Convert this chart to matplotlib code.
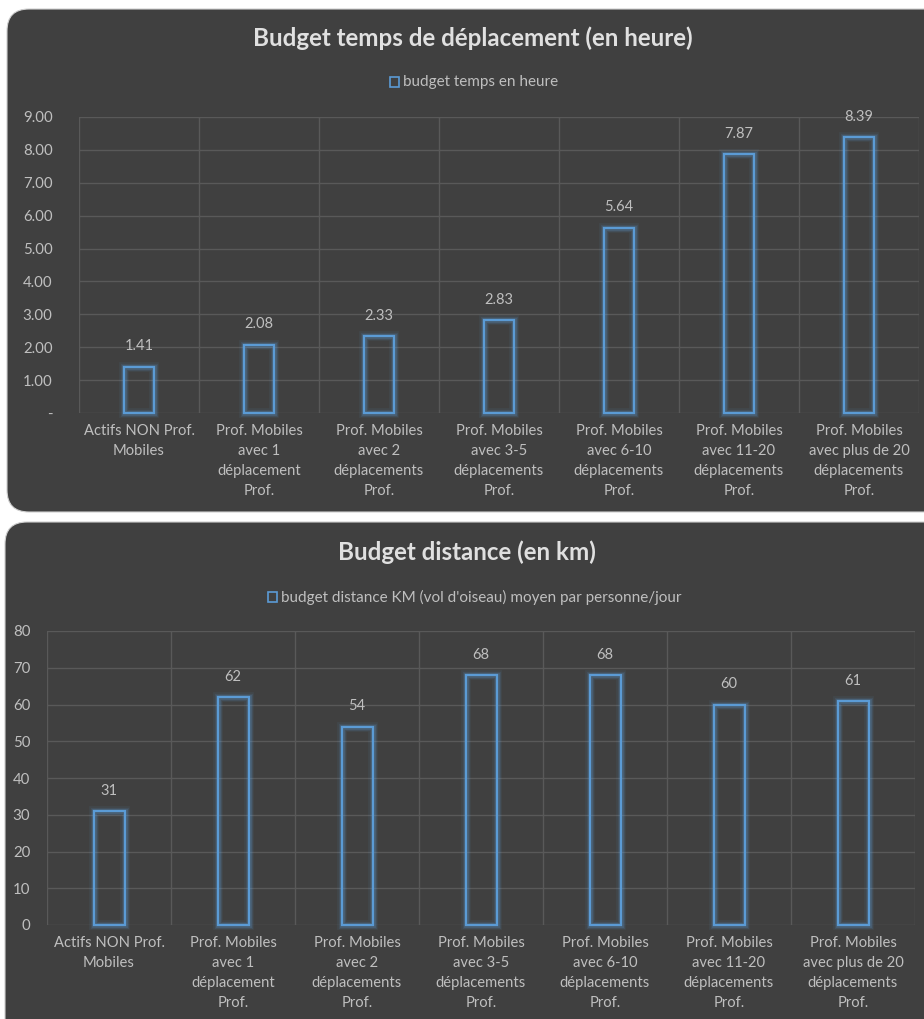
import matplotlib
matplotlib.use("Agg")
import matplotlib.pyplot as plt
from matplotlib.patches import FancyBboxPatch, Rectangle
from matplotlib.ticker import FixedLocator

plt.rcParams['font.family'] = ['Lato', 'DejaVu Sans']

# données
categories = [
    "Actifs NON Prof.\nMobiles",
    "Prof. Mobiles\navec 1\ndéplacement\nProf.",
    "Prof. Mobiles\navec 2\ndéplacements\nProf.",
    "Prof. Mobiles\navec 3-5\ndéplacements\nProf.",
    "Prof. Mobiles\navec 6-10\ndéplacements\nProf.",
    "Prof. Mobiles\navec 11-20\ndéplacements\nProf.",
    "Prof. Mobiles\navec plus de 20\ndéplacements\nProf.",
]
temps_heure = [1.41, 2.08, 2.33, 2.83, 5.64, 7.87, 8.39]
distance_km = [31, 62, 54, 68, 68, 60, 61]

temps_ticks = [0, 1, 2, 3, 4, 5, 6, 7, 8, 9]
temps_ticklabels = ["-"] + ["%.2f" % t for t in temps_ticks[1:]]
dist_ticks = [0, 10, 20, 30, 40, 50, 60, 70, 80]

W, H = 924, 1019
BG = "#404040"
GRID = "#595959"
BLUE = "#5b9bd5"
TXT = "#bfbfbf"
TITLE = "#e0e0e0"

fig = plt.figure(figsize=(W / 100, H / 100), dpi=100)
fig.patch.set_facecolor("white")

# fond : panneaux arrondis en coordonnées pixel
bg = fig.add_axes([0, 0, 1, 1])
bg.set_xlim(0, W)
bg.set_ylim(H, 0)
bg.axis("off")
bg.add_patch(FancyBboxPatch((7, 9), W + 40, 503, boxstyle="round,pad=0,rounding_size=22",
                            facecolor=BG, edgecolor="#d0d0d0", linewidth=0.8))
bg.add_patch(FancyBboxPatch((5, 522), W + 40, 560, boxstyle="round,pad=0,rounding_size=22",
                            facecolor=BG, edgecolor="#d0d0d0", linewidth=0.8))


def px_axes(left, top, right, bottom):
    return fig.add_axes([left / W, 1 - bottom / H, (right - left) / W, (bottom - top) / H])


def draw_chart(ax, values, ticks, ticklabels, fmt, title, legend, title_x, title_y, legend_y, ypad):
    ax.set_facecolor("none")
    x = list(range(len(values)))
    ax.set_xlim(-0.5, len(values) - 0.5)
    ax.set_ylim(ticks[0], ticks[-1])
    # lueur
    for lw, a in [(7, 0.08), (5, 0.12), (3.5, 0.2)]:
        ax.bar(x, values, width=0.25, fill=False, edgecolor=BLUE, linewidth=lw,
               alpha=a, clip_on=False, zorder=3)
    ax.bar(x, values, width=0.25, fill=False, edgecolor=BLUE, linewidth=1.6,
           clip_on=False, zorder=4)
    for xi, v in zip(x, values):
        ax.annotate(fmt % v, (xi, v), xytext=(0, 14.5), textcoords="offset points",
                    ha="center", va="center", color=TXT, fontsize=10.5)
    ax.set_yticks(ticks)
    ax.set_yticklabels(ticklabels)
    ax.set_xticks(x)
    ax.set_xticklabels(categories, linespacing=1.55, va="top", fontsize=10.6)
    ax.xaxis.set_minor_locator(FixedLocator([i + 0.5 for i in range(-1, len(values))]))
    ax.grid(True, axis="y", color=GRID, linewidth=1)
    ax.grid(True, axis="x", which="minor", color=GRID, linewidth=1)
    ax.tick_params(axis="both", which="both", length=0, colors=TXT)
    ax.tick_params(axis="y", pad=ypad, labelsize=10.8)
    ax.tick_params(axis="x", pad=8)
    for s in ax.spines.values():
        s.set_visible(False)
    ax.set_axisbelow(True)
    bg.text(title_x, title_y, title, ha="center", va="center", fontsize=17.4,
            fontweight="bold", color=TITLE)
    t = bg.text(481, legend_y, legend, ha="center", va="center", fontsize=11, color=TXT)
    fig.canvas.draw()
    bb = t.get_window_extent()
    lx = bb.x0 - 13
    bg.add_patch(Rectangle((lx, legend_y - 5), 9, 10, fill=False, edgecolor=BLUE, linewidth=1.2))


ax1 = px_axes(79, 117, 919, 413)
draw_chart(ax1, temps_heure, temps_ticks, temps_ticklabels, "%.2f",
           "Budget temps de déplacement (en heure)", "budget temps en heure", 473, 38, 82, 19)

ax2 = px_axes(47, 631, 915, 925)
draw_chart(ax2, distance_km, dist_ticks, [str(t) for t in dist_ticks], "%d",
           "Budget distance (en km)",
           "budget distance KM (vol d'oiseau) moyen par personne/jour", 467, 552, 597, 12)

fig.savefig("out.png", dpi=100, facecolor=fig.get_facecolor())
